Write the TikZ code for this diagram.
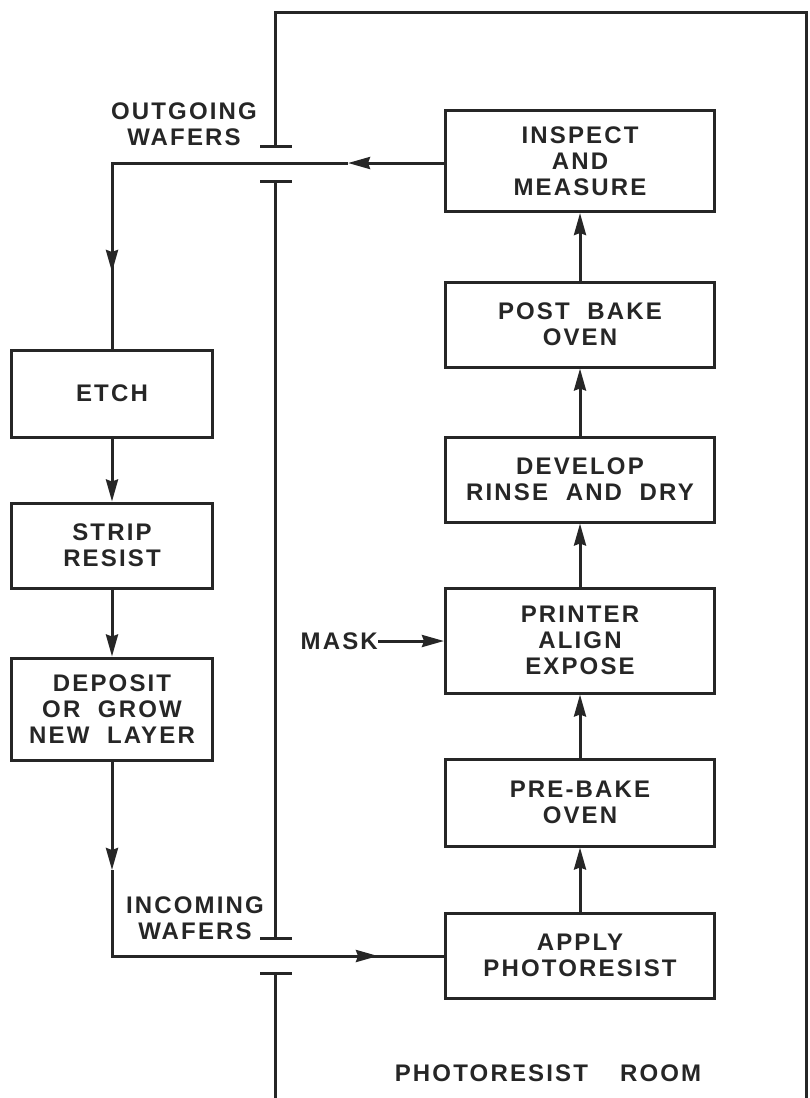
\documentclass[tikz,border=0pt]{standalone}
\usepackage{fontspec}
\setmainfont{Liberation Sans}[LetterSpace=9,WordSpace=2.0]
\usetikzlibrary{arrows.meta}
\newcommand{\lblfont}{\bfseries\fontsize{24}{26}\selectfont}
\begin{document}
\begin{tikzpicture}[x=1pt,y=-1pt,
  wall/.style={line width=3pt, draw=black!85},
  flow/.style={line width=3pt, draw=black!85},
  arr/.style={line width=3pt, draw=black!85, -{Stealth[length=22pt,width=12pt,inset=2pt]}},
  box/.style={draw=black!85, line width=3pt, inner sep=0pt, align=center, font=\lblfont, text=black!85},
  txt/.style={inner sep=0pt, align=center, font=\lblfont, text=black!85}]
\useasboundingbox (0,0) rectangle (809,1098);
% boxes right column
\node[box, minimum width=269pt, minimum height=101pt] (inspect) at (580,161) {INSPECT\\AND\\MEASURE};
\node[box, minimum width=269pt, minimum height=85pt] (postbake) at (580,324.5) {POST BAKE\\OVEN};
\node[box, minimum width=269pt, minimum height=85pt] (develop) at (580,479.5) {DEVELOP\\RINSE AND DRY};
\node[box, minimum width=269pt, minimum height=105pt] (printer) at (580,640.5) {PRINTER\\ALIGN\\EXPOSE};
\node[box, minimum width=269pt, minimum height=87pt] (prebake) at (580,802.5) {PRE-BAKE\\OVEN};
\node[box, minimum width=269pt, minimum height=85pt] (apply) at (580,955.5) {APPLY\\PHOTORESIST};
% boxes left column
\node[box, minimum width=201pt, minimum height=87pt] (etch) at (112,393.5) {ETCH};
\node[box, minimum width=201pt, minimum height=85pt] (strip) at (112,545.5) {STRIP\\RESIST};
\node[box, minimum width=201pt, minimum height=102pt] (deposit) at (112,709) {DEPOSIT\\OR GROW\\NEW LAYER};
% labels
\node[txt] (outlbl) at (184,124) {OUTGOING\\WAFERS};
\node[txt] (inlbl) at (195,918) {INCOMING\\WAFERS};
\node[txt, anchor=east] (mask) at (378,641) {MASK};
\node[txt] (room) at (548,1073) {PHOTORESIST\hspace{32pt}ROOM};
% room walls
\coordinate (w1) at (275,146);
\coordinate (w2) at (275,181);
\coordinate (w3) at (275,938);
\coordinate (w4) at (275,973);
\draw[wall] (w1) -- (275,12) -- (806,12) -- (806,1098);
\draw[wall] ([xshift=-15pt]w1) -- ([xshift=17pt]w1);
\draw[wall] ([xshift=-15pt]w2) -- ([xshift=17pt]w2) (w2) -- (w3);
\draw[wall] ([xshift=-15pt]w3) -- ([xshift=17pt]w3);
\draw[wall] ([xshift=-15pt]w4) -- ([xshift=17pt]w4) (w4) -- (275,1098);
% flow right column (upwards)
\draw[arr] (apply.north) -- (prebake.south);
\draw[arr] (prebake.north) -- (printer.south);
\draw[arr] (printer.north) -- (develop.south);
\draw[arr] (develop.north) -- (postbake.south);
\draw[arr] (postbake.north) -- (inspect.south);
\draw[arr] (mask.east) -- (mask.east -| printer.west);
% outgoing
\coordinate (oc) at (112,163);
\coordinate (oa) at (348,163);
\coordinate (ob) at (112,272);
\draw[arr] (inspect.west |- oa) -- (oa);
\draw[flow] (oa) -- (oc) -- (ob);
\draw[arr] (oc) -- (ob);
\draw[flow] (ob) -- (etch.north);
% left column
\draw[arr] (etch.south) -- (strip.north);
\draw[arr] (strip.south) -- (deposit.north);
% incoming
\coordinate (ic) at (112,956);
\coordinate (ia) at (112,870);
\coordinate (ib) at (378,956);
\draw[arr] (deposit.south) -- (ia);
\draw[flow] (ia) -- (ic) -- (ib);
\draw[arr] (ic) -- (ib);
\draw[flow] (ib) -- (ib -| apply.west);
\end{tikzpicture}
\end{document}
